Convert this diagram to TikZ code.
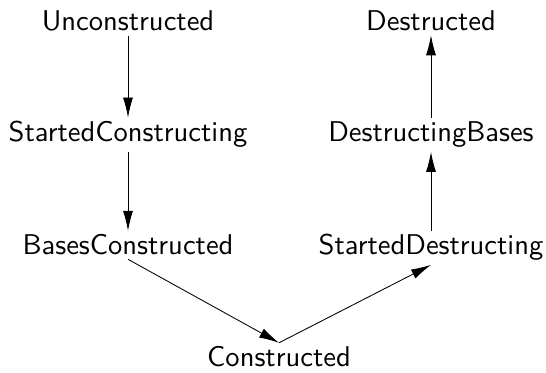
\documentclass[tikz,border=0pt]{standalone}
\usetikzlibrary{arrows.meta}
\begin{document}
\begin{tikzpicture}[x=0.35pt,y=-0.35pt,
  state/.style={font=\sffamily\fontsize{10}{12}\selectfont, inner sep=1.2pt, anchor=base},
  edge/.style={draw, line width=0.3pt, -{Latex[length=7pt,width=3.5pt]}}]
\useasboundingbox (0,0) rectangle (546,373);
\node[state] (u)  at (128,31)  {Unconstructed};
\node[state] (sc) at (128,142) {StartedConstructing};
\node[state] (bc) at (128,255) {BasesConstructed};
\node[state] (c)  at (279,367) {Constructed};
\node[state] (sd) at (431,255) {StartedDestructing};
\node[state] (db) at (431,142) {DestructingBases};
\node[state] (d)  at (431,31)  {Destructed};
\draw[edge] (u.south) -- (sc.north);
\draw[edge] (sc.south) -- (bc.north);
\draw[edge] (bc.south) -- (c.north);
\draw[edge] (c.north) -- (sd.south);
\draw[edge] (sd.north) -- (db.south);
\draw[edge] (db.north) -- (d.south);
\end{tikzpicture}
\end{document}
